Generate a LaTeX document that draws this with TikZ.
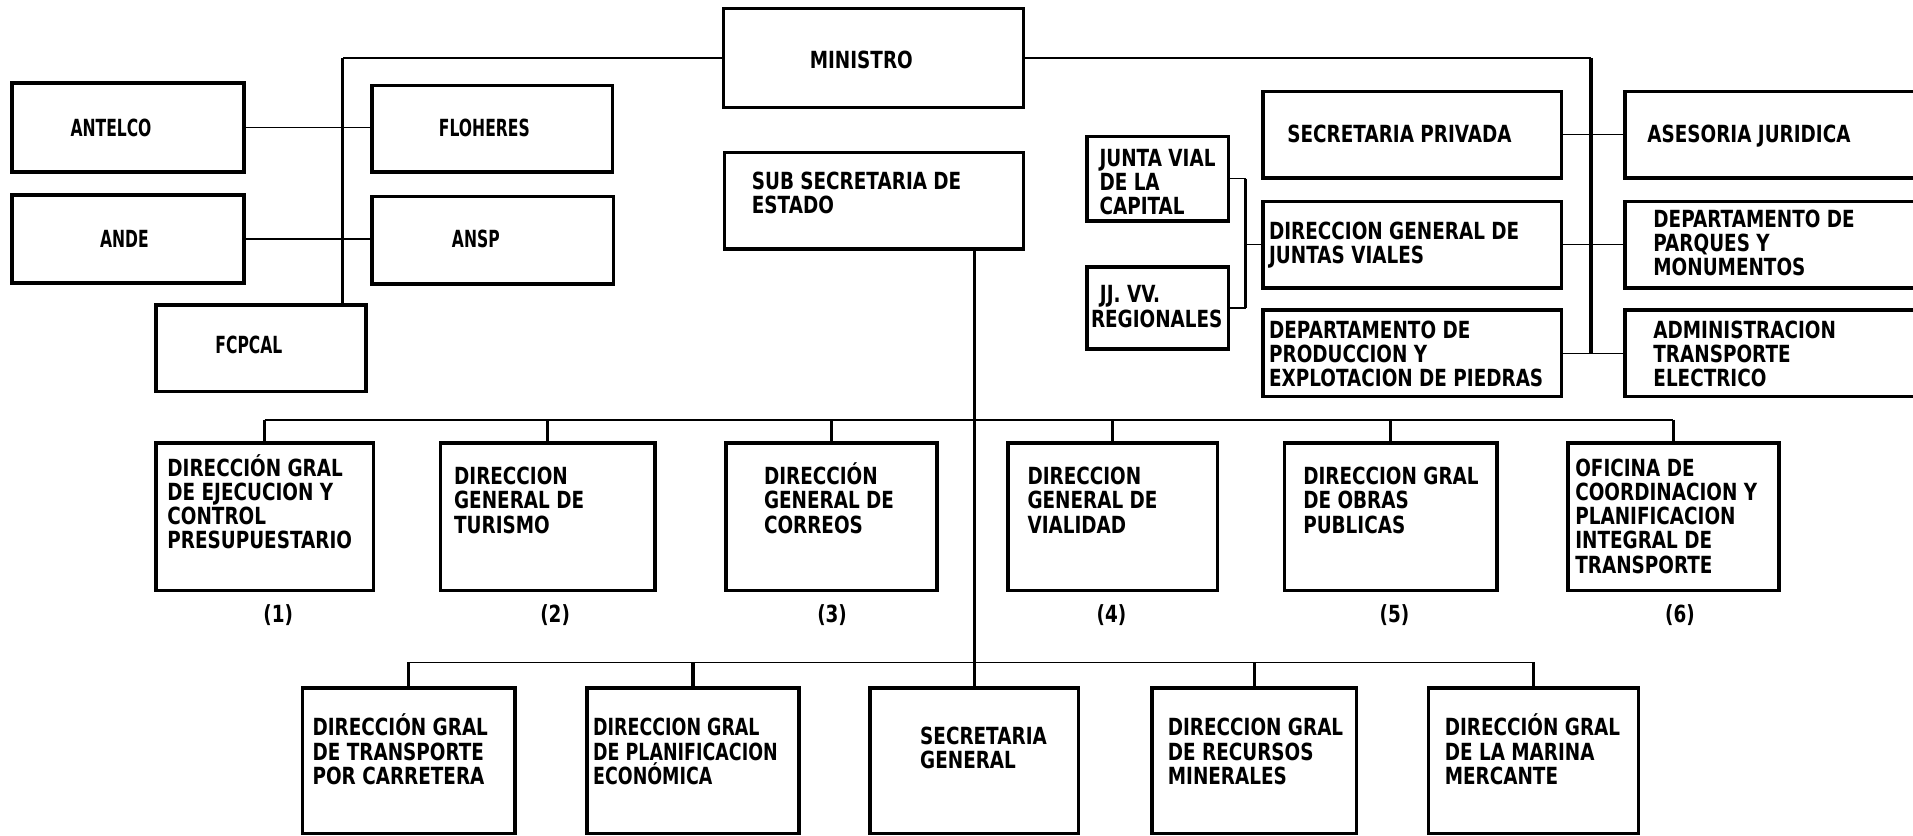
\documentclass[tikz,border=0pt]{standalone}
\usepackage{fontspec}
\newfontfamily\chartfont{DejaVu Sans}[FakeStretch=0.78]
\newfontfamily\chartnarrow{DejaVu Sans}[FakeStretch=0.66]
\newfontfamily\charttight{DejaVu Sans}[FakeStretch=0.74]
\newcommand{\mystrut}{\rule{0pt}{17pt}}
\begin{document}
\begin{tikzpicture}[x=0.3mm, y=-0.3mm,
  box/.style={draw, line width=2.5pt, rectangle, inner sep=0pt},
  bx/.style 2 args={minimum width=#1*0.3mm, minimum height=#2*0.3mm},
  txt/.style={anchor=north west, inner sep=0pt, align=left,
    font=\chartfont\bfseries\fontsize{16.5}{17}\selectfont},
  ctxt/.style={anchor=center, inner sep=0pt,
    font=\chartfont\bfseries\fontsize{16.5}{17}\selectfont},
  ntxt/.style={anchor=center, inner sep=0pt,
    font=\chartnarrow\bfseries\fontsize{16.5}{17}\selectfont},
  thinln/.style={line width=0.9pt},
  busln/.style={line width=1.3pt},
  thickln/.style={line width=2.3pt}]
\useasboundingbox (0,0) rectangle (1568,685);
\fill[white] (0,0) rectangle (1568,685);

% ---------- boxes ----------
\node[box, bx={246}{81}] (min) at (716,47.5) {};
\node[box, bx={245}{79}] (sub) at (716.5,164.5) {};
\node[box, bx={190}{73}] (ant) at (105,104.5) {};
\node[box, bx={197}{71}] (flo) at (403.5,105.5) {};
\node[box, bx={190}{72}] (ande) at (105,196) {};
\node[box, bx={198}{72}] (ansp) at (404,197) {};
\node[box, bx={172}{71}] (fcp) at (214,285.5) {};
\node[box, bx={116}{69}] (jv) at (949,146.5) {};
\node[box, bx={116}{67}] (jj) at (949,252.5) {};
\node[box, bx={245}{71}] (sp) at (1157.5,110.5) {};
\node[box, bx={245}{71}] (dgj) at (1157.5,200.5) {};
\node[box, bx={245}{71}] (dpp) at (1157.5,289.5) {};
\node[box, bx={243}{71}] (aj) at (1453.5,110.5) {};
\node[box, bx={243}{71}] (dpm) at (1453.5,200.5) {};
\node[box, bx={243}{71}] (adm) at (1453.5,289.5) {};
\node[box, bx={178}{121}] (b1) at (217,423.5) {};
\node[box, bx={176}{121}] (b2) at (449,423.5) {};
\node[box, bx={173}{121}] (b3) at (681.5,423.5) {};
\node[box, bx={172}{121}] (b4) at (912,423.5) {};
\node[box, bx={174}{121}] (b5) at (1140,423.5) {};
\node[box, bx={173}{121}] (b6) at (1371.5,423.5) {};
\node[box, bx={174}{119}] (ra) at (335,623.5) {};
\node[box, bx={174}{119}] (rb) at (568,623.5) {};
\node[box, bx={171}{119}] (rc) at (798.5,623.5) {};
\node[box, bx={168}{119}] (rd) at (1028,623.5) {};
\node[box, bx={172}{119}] (re) at (1257,623.5) {};

% ---------- texts (top = first-line centre - 13) ----------
\node[ctxt] (mint) at (706,49) {MINISTRO};
\node[txt] (subt) at (616,135) {\mystrut SUB SECRETARIA DE\\ESTADO};
\node[ntxt] (antt) at (91,105) {ANTELCO};
\node[ntxt] (flot) at (397,105) {FLOHERES};
\node[ntxt] (andet) at (102,196) {ANDE};
\node[ntxt] (anspt) at (390,196) {ANSP};
\node[ntxt] (fcpt) at (204,283) {FCPCAL};
\node[txt] (jvt) at (901,116) {\mystrut JUNTA VIAL\\DE LA\\CAPITAL};
\node[txt] (jjt) at (894,228) {\mystrut\hspace*{2.2mm}JJ. VV.\\REGIONALES};
\node[txt] (spt) at (1055,97) {\mystrut SECRETARIA PRIVADA};
\node[txt] (ajt) at (1350,97) {\mystrut ASESORIA JURIDICA};
\node[txt] (dgjt) at (1040,176) {\mystrut DIRECCION GENERAL DE\\JUNTAS VIALES};
\node[txt] (dpmt) at (1355,166) {\mystrut DEPARTAMENTO DE\\PARQUES Y\\MONUMENTOS};
\node[txt] (dppt) at (1040,257) {\mystrut DEPARTAMENTO DE\\PRODUCCION Y\\EXPLOTACION DE PIEDRAS};
\node[txt] (admt) at (1355,257) {\mystrut ADMINISTRACION\\TRANSPORTE\\ELECTRICO};
\node[txt] (b1t) at (137,370) {\mystrut DIRECCIÓN GRAL\\DE EJECUCION Y\\CONTROL\\PRESUPUESTARIO};
\node[txt] (b2t) at (372,377) {\mystrut DIRECCION\\GENERAL DE\\TURISMO};
\node[txt] (b3t) at (626,377) {\mystrut DIRECCIÓN\\GENERAL DE\\CORREOS};
\node[txt] (b4t) at (842,377) {\mystrut DIRECCION\\GENERAL DE\\VIALIDAD};
\node[txt] (b5t) at (1068,377) {\mystrut DIRECCION GRAL\\DE OBRAS\\PUBLICAS};
\node[txt] (b6t) at (1291,370) {\mystrut OFICINA DE\\COORDINACION Y\\PLANIFICACION\\INTEGRAL DE\\TRANSPORTE};
\node[txt] (rat) at (256,583) {\mystrut DIRECCIÓN GRAL\\DE TRANSPORTE\\POR CARRETERA};
\node[txt, font=\charttight\bfseries\fontsize{16.5}{17}\selectfont] (rbt) at (486,583) {\mystrut DIRECCION GRAL\\DE PLANIFICACION\\ECONÓMICA};
\node[txt] (rct) at (754,590) {\mystrut SECRETARIA\\GENERAL};
\node[txt] (rdt) at (957,583) {\mystrut DIRECCION GRAL\\DE RECURSOS\\MINERALES};
\node[txt] (ret) at (1184,583) {\mystrut DIRECCIÓN GRAL\\DE LA MARINA\\MERCANTE};

\node[ctxt] (l1) at (228,504) {(1)};
\node[ctxt] (l2) at (455,504) {(2)};
\node[ctxt] (l3) at (682,504) {(3)};
\node[ctxt] (l4) at (911,504) {(4)};
\node[ctxt] (l5) at (1143,504) {(5)};
\node[ctxt] (l6) at (1377,504) {(6)};

% ---------- connectors ----------
\coordinate (ltop) at (281,47.5);
\coordinate (rtop) at (1304,47.5);
\coordinate (bk) at (1021,0);
\coordinate (bus1) at (0,344);
\coordinate (bus2) at (0,543);

\draw[thinln] (min.west) -- (ltop);
\draw[thickln] (ltop) -- (ltop |- fcp.north);
\draw[thinln] (ant.east) -- (ant.east -| flo.west);
\draw[thinln] (ande.east) -- (ande.east -| ansp.west);

\draw[thinln] (min.east) -- (rtop);
\draw[thickln] (rtop) -- (rtop |- adm.west);
\draw[thinln] (sp.east) -- (aj.west);
\draw[thinln] (dgj.east) -- (dpm.west);
\draw[thinln] (dpp.east) -- (adm.west);

\draw[thinln] (jv.east) -- (jv.east -| bk);
\draw[thickln] (jv.east -| bk) -- (jj.east -| bk);
\draw[thinln] (jj.east -| bk) -- (jj.east);
\draw[thinln] (dgj.west -| bk) -- (dgj.west);

\draw[thickln] (rc.north |- sub.south) -- (rc.north);

\draw[busln] (b1.north |- bus1) -- (b6.north |- bus1);
\foreach \b in {b1,b2,b3,b4,b5,b6} \draw[thickln] (\b.north |- bus1) -- (\b.north);
\draw[busln] (ra.north |- bus2) -- (re.north |- bus2);
\foreach \b in {ra,rb,rd,re} \draw[thickln] (\b.north |- bus2) -- (\b.north);
\end{tikzpicture}
\end{document}
